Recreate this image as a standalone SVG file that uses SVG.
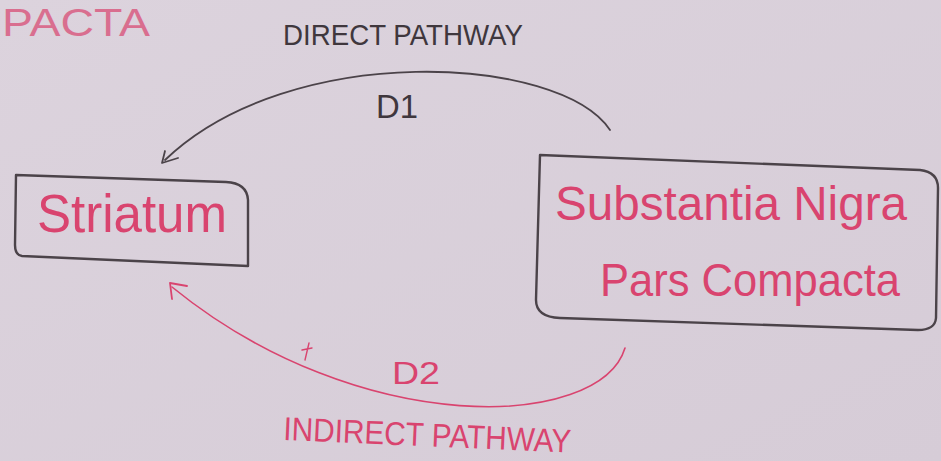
<svg xmlns="http://www.w3.org/2000/svg" width="941" height="461" viewBox="0 0 941 461">
<style>
.box{fill:none;stroke:#4b4349;stroke-width:2.4;stroke-linejoin:round}
.pink{fill:#d9446f;font-family:"Liberation Sans",Arial,sans-serif}
.dark{fill:#3f373d;font-family:"Liberation Sans",Arial,sans-serif}
.pen{fill:none;stroke-linecap:round;stroke-linejoin:round}
</style>
<defs>
<linearGradient id="paper" x1="0" y1="0" x2="1" y2="1">
<stop offset="0" stop-color="#dcd3dd"/>
<stop offset="1" stop-color="#d6ccd7"/>
</linearGradient>
</defs>
<rect width="941" height="461" fill="url(#paper)"/>
<text class="pink" x="2" y="36" font-size="38" opacity="0.7" textLength="148" lengthAdjust="spacingAndGlyphs">PACTA</text>
<text class="dark" x="283" y="45" font-size="29" textLength="240" lengthAdjust="spacingAndGlyphs">DIRECT PATHWAY</text>
<g id="connectors">
<path class="pen" d="M 610,130 C 560,55 290,40 165,160" stroke="#4b4349" stroke-width="1.8"/>
<path class="pen" d="M 165,151 L 162,163 L 178,158" stroke="#4b4349" stroke-width="1.8"/>
<text class="dark" x="376" y="118" font-size="33" textLength="42" lengthAdjust="spacingAndGlyphs">D1</text>
<path class="pen" d="M 625,348 C 600,430 360,440 172,287" stroke="#d9446f" stroke-width="1.6"/>
<path class="pen" d="M 172,299 L 170,283 L 187,286" stroke="#d9446f" stroke-width="1.8"/>
<text class="pink" x="392" y="384" font-size="32" textLength="48" lengthAdjust="spacingAndGlyphs">D2</text>
<path class="pen" d="M 309,343 L 305,360 M 302,350 L 312,348" stroke="#d9446f" stroke-width="1.4"/>
</g>
<text class="pink" x="283" y="440" font-size="33" textLength="288" lengthAdjust="spacingAndGlyphs" transform="rotate(2.5 283 440)">INDIRECT PATHWAY</text>
<g id="node-striatum">
<path class="box" d="M 16,175 L 226,182 Q 247,183 248,200 L 248,266 L 22,256 Q 15,255 15,245 Z"/>
<text class="pink" x="37" y="232" font-size="54" textLength="190" lengthAdjust="spacingAndGlyphs">Striatum</text>
</g>
<g id="node-snpc">
<path class="box" d="M 540,155 L 920,170 Q 938,172 938,188 L 936,318 Q 935,330 918,330 L 560,318 Q 536,317 536,300 Z"/>
<text class="pink" x="555" y="220" font-size="48" textLength="352" lengthAdjust="spacingAndGlyphs">Substantia Nigra</text>
<text class="pink" x="600" y="296" font-size="47" textLength="300" lengthAdjust="spacingAndGlyphs">Pars Compacta</text>
</g>
</svg>
